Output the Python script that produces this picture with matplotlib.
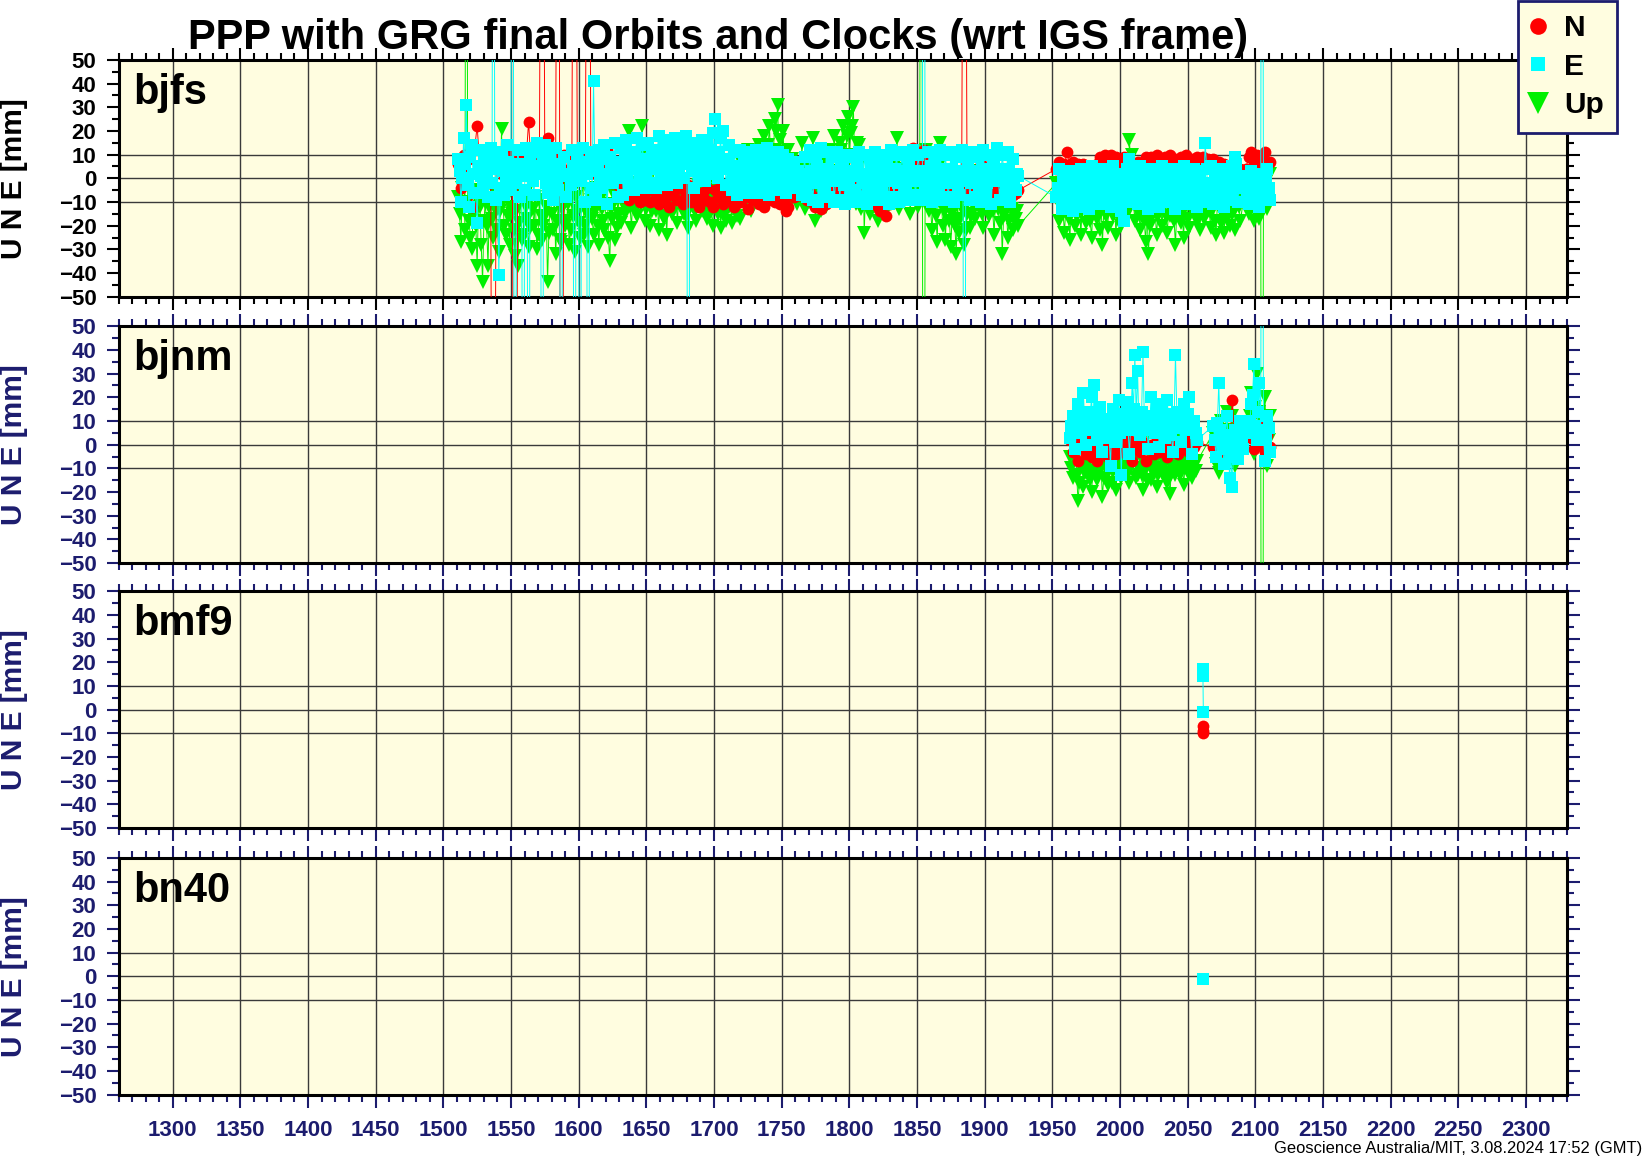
import matplotlib
matplotlib.use("Agg")
import matplotlib.pyplot as plt
import matplotlib.ticker as mticker
from matplotlib.lines import Line2D

plt.rcParams["font.family"] = ["Liberation Sans", "DejaVu Sans"]
plt.rcParams["font.weight"] = "bold"

TITLE = "PPP with GRG final Orbits and Clocks (wrt IGS frame)"
FOOTER = "Geoscience Australia/MIT, 3.08.2024 17:52 (GMT)"
YLABEL = "U N E [mm]"

# GPS weeks of the samples (every second week,
# plus the in-between weeks for the denser E and Up bands)
BJFS_WEEKS_A = list(range(1511, 1926, 2))   # 208 samples
BJFS_WEEKS_B = list(range(1953, 2090, 2))   # 69 samples
BJFS_WEEKS_C = list(range(2093, 2112, 2))   # 10 samples
BJFS_WEEKS_A2 = list(range(1512, 1925, 2))  # 207 samples
BJFS_WEEKS_B2 = list(range(1954, 2089, 2))  # 68 samples
BJFS_WEEKS_C2 = list(range(2094, 2111, 2))  # 9 samples

# +/-300 are outliers far off scale (the long vertical spikes)
BJFS_N_A = [
    6, -4, 10, 2, 8, -12, 12, 22, 5, 11,
    3, 9, -2, -300, 8, 4, 11, 1, 9, 10,
    5, -300, 8, 2, 10, 6, 24, 4, 9, 3,
    8, 300, 6, 17, 11, 5, 9, 300, -300, 10,
    9, 4, 11, 300, 8, 12, 6, 10, 300, 7,
    8, 2, 6, -1, 5, 12, 3, -2, 4, -3,
    -4, -8, -3, -9, -5, -7, -2, -10, -6, -9,
    -5, -10, -4, -8, -11, -3, -9, -6, -12, -7,
    -5, -9, -4, -11, -7, -3, -10, -6, -8, -12,
    -6, -9, -4, -10, -12, -5, -8, -3, -11, -7,
    -9, -5, -12, -7, -10, -4, -8, -13, -6, -9,
    -5, -11, -7, -12, -4, -9, -6, -10, -8, -11,
    -9, -14, -12, -6, -8, -5, -7, -4, -6, -9,
    -6, -10, -12, -8, -13, -7, -11, -5, -9, -4,
    -6, -3, -8, -5, -7, -4, -9, -6, -3, -7,
    -5, -8, -4, -6, -9, -12, -14, -10, -16, -11,
    -7, -4, -8, -3, -6, -2, 4, 9, 13, 7,
    11, 5, 12, 8, 3, -2, -5, -3, -6, -4,
    -5, -2, -7, -4, -6, -3, -5, 300, -4, -7,
    -3, -6, 2, 6, 4, -2, -5, -4, -7, -6,
    -4, -7, -5, -6, -3, -7, -6, -5,
]
BJFS_E_A = [
    8, -10, 17, 31, -12, 14, -6, -19, 12, -4,
    10, -8, 13, 300, -9, -41, 11, -7, 14, -5,
    300, -300, 12, -8, -300, 13, -300, 11, -7, 15,
    12, -300, 14, -6, 10, -9, 13, -5, -300, 9,
    -8, 2, 12, -300, 10, -300, 13, -10, -300, 11,
    41, -9, 12, -4, 14, -11, 9, -2, 15, -8,
    13, -7, 16, -3, 11, -5, 17, 0, 14, -4,
    15, -2, 12, -4, 18, 1, 14, -3, 16, 2,
    17, -2, 13, 0, 18, -300, 15, -4, 12, 1,
    16, -1, 14, 2, 19, 25, 0, 17, 20, -3,
    14, -5, 11, -7, 12, -2, 10, -6, 11, -4,
    12, -6, 10, -3, 13, -7, 9, -5, 11, -2,
    10, -6, 8, -4, 7, -3, 2, -7, 9, -8,
    12, -9, 10, -10, 13, -6, 11, -8, 9, -10,
    11, -9, 8, -11, 10, -7, 9, -10, 11, -8,
    10, -11, 9, -6, 11, -9, 8, -8, 10, -11,
    12, -8, 10, -10, 11, -6, 9, -9, 12, -7,
    10, -9, 300, -8, 11, -10, 9, -6, 12, -9,
    10, -8, 11, -10, 9, -7, 12, -300, 10, -9,
    11, -8, 9, -10, 12, -6, 10, -11, 8, 13,
    -9, 10, -7, 11, -10, 8, -5, 1,
]
BJFS_E_A2 = [
    3, 0, 6, -3, 9, 2, -6, 5, 1, 7,
    2, 6, -2, 4, 8, -4, 3, 0, 7, 1,
    4, -2, 6, 1, -5, 3, 8, -1, 5, 2,
    3, 7, -2, 5, 0, 4, -3, 6, 1, 2,
    1, -3, 5, 3, 7, -1, 4, 2, 6, -4,
    3, 6, 1, 8, 2, -2, 5, 7, 0, 4,
    5, 9, 2, 7, 4, 11, 6, 3, 8, 1,
    6, 9, 4, 11, 7, 3, 10, 5, 8, 12,
    8, 4, 10, 6, 12, 7, 3, 9, 5, 11,
    7, 10, 5, 12, 9, 6, 11, 4, 8, 6,
    4, 1, 5, -1, 3, 6, 0, 2, 7, 1,
    3, 0, 5, 2, -2, 4, 1, 6, -1, 3,
    2, 0, 4, -1, 1, 3, -2, 2, -3, 1,
    3, -2, 5, 0, 2, -4, 4, 1, -1, 3,
    0, 4, -3, 2, -1, 3, -5, 5, 1, -2,
    2, -3, 4, 0, -2, 3, -4, 1, 5, -1,
    1, 4, -2, 3, 0, -4, 5, 2, -1, 3,
    0, 3, -3, 2, 5, -1, 1, -4, 4, 0,
    2, -2, 4, 0, -3, 3, 1, -1, 5, -2,
    3, 0, -4, 4, 1, -2, 2, 5, -1, 3,
    0, 4, -2, 3, 1, -3, 2,
]
BJFS_U_A = [
    -8, -27, 2, 300, -18, -30, -5, -37, -12, -44,
    -10, -37, -3, -25, -14, -31, 21, -20, -8, -28,
    -15, -33, -37, -6, -24, -12, -29, -2, -20, -30,
    -9, -26, -16, -44, -5, -22, -32, -11, -27, -3,
    -18, -28, -6, -31, -14, -25, 4, -20, -29, -9,
    -24, -4, -28, -13, -22, -2, -35, -17, -26, -8,
    -19, 3, -12, 20, -21, -6, -16, 9, 22, -18,
    -10, -20, 4, -14, -22, -7, -17, -24, -3, -15,
    -11, -19, 6, -8, -16, -21, -4, -13, -18, -6,
    -14, 5, -17, -9, -20, -2, -15, -21, -7, -18,
    -12, -19, -4, -16, -17, 6, -10, 12, -14, 10,
    -8, 14, -11, 18, 8, 22, -6, 25, 31, 16,
    20, -12, 12, -9, 3, -11, -5, 15, -13, -7,
    -10, 17, -18, -6, -14, 4, -12, 12, -8, 18,
    -9, 15, 22, -7, 26, 19, 30, -11, 14, -13,
    -23, 8, -15, -4, -12, -18, 2, -10, -14, -5,
    -11, 6, 17, -13, -3, -9, 10, -15, 5, -7,
    -12, 300, -300, 12, -14, -22, -8, -27, 15, -20,
    -26, -11, -29, -18, -32, -23, -9, -28, -15, -21,
    -10, -17, 3, -13, -21, -6, -16, -12, -24, -8,
    -19, -32, -14, -25, -11, -22, -17, -20,
]
BJFS_U_A2 = [
    -15, -4, -22, -10, -25, -16, -20, -9, -28, -18,
    -20, -12, -17, -6, -22, -14, -10, -24, -16, -12,
    -22, -14, -19, -26, -10, -17, -21, -13, -8, -24,
    -16, -20, -12, -23, -15, -9, -18, -26, -13, -20,
    -11, -22, -16, -8, -19, -12, -24, -15, -6, -17,
    -14, -20, -9, -18, -11, -25, -13, -7, -21, -15,
    -10, -15, -5, -12, -8, -14, -2, -11, -6, -13,
    -7, -14, -9, -3, -12, -16, -6, -11, -13, -8,
    -9, -5, -13, -15, -7, -11, -10, -14, -3, -12,
    -8, -12, -5, -14, -10, -13, -9, -6, -15, -11,
    -9, -6, -12, -8, -3, -11, -2, -7, 4, -5,
    6, -4, 10, 2, 14, 5, 12, 20, 8, 11,
    6, 2, -4, 8, -6, 4, -2, -8, 5, -10,
    6, -4, -9, 2, -3, 7, -6, 3, 10, -2,
    8, 12, 4, 18, 10, 22, 6, 15, -4, 9,
    -6, 0, -9, 3, -5, -8, -2, 4, -7, -3,
    2, -5, 8, -1, 4, -7, 0, -3, 6, -4,
    -6, 2, -8, -3, -11, -13, -16, 5, -9, -14,
    -12, -18, -15, -20, -10, -17, -14, -22, -8, -16,
    -12, -5, -9, -15, -7, -11, -3, -14, -9, -13,
    -12, -16, -9, -18, -13, -8, -14,
]
BJFS_N_B = [
    4, 7, 5, 6, 11, 4, 7, 5, 6, 3,
    6, 2, 4, 1, 3, 6, 9, 5, 10, 7,
    10, 6, 9, 4, 8, 9, 5, 7, 3, 6,
    7, 4, 6, 9, 5, 9, 6, 10, 4, 8,
    9, 5, 10, 7, 8, 4, 9, 6, 10, 7,
    8, 4, 9, 7, 9, 5, 8, 6, 8, 4,
    7, 3, 6, 4, 5, 2, 4, 3, 4,
]
BJFS_E_B = [
    -8, 4, -13, 2, -10, 3, -14, 1, -12, 4,
    -9, 2, -13, 5, -8, 0, -11, 4, -7, 3,
    -12, 5, -9, 2, -14, -18, 4, 8, -10, 3,
    -11, 5, -8, 2, -13, 4, -9, 1, -12, 5,
    -7, 3, -10, 4, -13, 2, -8, 5, -11, 1,
    -9, 4, -12, 3, -10, 15, -6, 5, -11, 2,
    -8, 4, -12, 3, -9, 5, 9, -10, 1,
]
BJFS_E_B2 = [
    -4, -7, -1, -5, -3, -8, -2, -6, -4, -1,
    -5, -2, -7, -3, 0, -6, -4, -8, -2, -5,
    -3, -6, 0, -4, -9, -1, -5, 2, -3, -6,
    -2, -5, -7, -3, 0, -6, -4, -8, -1, -5,
    -4, -1, -6, -3, -8, 0, -5, -2, -7, -4,
    -3, -6, -1, -5, -2, 4, -7, -3, 0, -5,
    -2, -6, -4, 0, -5, -3, 6, -4,
]
BJFS_U_B = [
    -2, -18, -8, -23, -13, -26, -5, -20, -11, -24,
    -9, -19, -14, -25, -4, -17, -22, -28, -10, -21,
    -6, -16, -24, -12, -20, -3, -15, 16, 10, -18,
    -8, -22, -13, -27, -32, -17, -6, -24, -14, -20,
    -9, -23, -16, -5, -28, -12, -19, -25, -7, -21,
    -14, -4, -18, -22, -10, -16, -5, -21, -13, -24,
    -8, -19, -23, -11, -20, -15, -22, -9, -18,
]
BJFS_U_B2 = [
    -10, -6, -15, -12, -17, -8, -13, -16, -5, -14,
    -12, -7, -18, -13, -10, -15, -9, -14, -16, -6,
    -14, -9, -12, -17, -7, -13, -2, 5, -11, -8,
    -15, -11, -18, -13, -20, -9, -14, -16, -10, -12,
    -16, -12, -7, -18, -13, -10, -15, -11, -17, -9,
    -11, -16, -8, -13, -17, -7, -14, -12, -18, -10,
    -13, -15, -8, -16, -11, -14, -7, -12,
]
BJFS_N_C = [4, 9, 11, 6, 10, 4, 8, 11, 5, 7]
BJFS_E_C = [-3, -11, 3, -8, 2, -12, 300, -6, 4, -9]
BJFS_E_C2 = [-6, -1, -4, 0, -7, -3, -5, -1, -4]
BJFS_U_C = [-2, -15, -6, -18, -10, -17, -300, -8, -13, 2]
BJFS_U_C2 = [-8, -11, -4, -12, -6, -9, -12, -5, -10]

BJNM_WEEKS_A = list(range(1963, 2058, 2))   # 48 samples
BJNM_WEEKS_B = list(range(2069, 2092, 2))   # 12 samples
BJNM_WEEKS_C = list(range(2095, 2112, 2))   # 9 samples
BJNM_WEEKS_A2 = list(range(1964, 2057, 2))  # 47 samples
BJNM_WEEKS_B2 = list(range(2070, 2091, 2))  # 11 samples
BJNM_WEEKS_C2 = list(range(2096, 2111, 2))  # 8 samples
BJNM_N_A = [
    2, -3, 1, -7, -2, 0, -4, 2, -5, -1,
    -7, 1, -3, 0, -5, 2, -2, -4, 1, -3,
    -1, -4, 2, -7, -2, 0, -3, 1, -7, -2,
    0, -4, 2, -3, -1, 1, -5, 0, -2, 1,
    -4, 0, -2, 2, -3, 0, -1, 1,
]
BJNM_E_A = [
    3, 12, -2, 17, 5, 22, 0, 14, 20, 25,
    2, 16, -3, 11, 6, -9, 15, 1, 19, -13,
    8, 18, -4, 26, 38, 31, 4, 39, 10, -2,
    20, 7, 17, -1, 14, 3, 19, 9, -3, 38,
    12, 1, 17, 6, 20, -4, 10, 2,
]
BJNM_E_A2 = [
    8, 5, 11, 9, 14, 7, 10, 13, 6, 12,
    9, 4, 10, 7, 3, 11, 8, 12, 5, 9,
    13, 6, 10, 15, 12, 8, 14, 11, 6, 9,
    12, 5, 10, 7, 11, 13, 8, 4, 10, 14,
    7, 11, 9, 13, 6, 8, 5,
]
BJNM_U_A = [
    -5, -14, 4, -24, -10, -18, 2, -12, -20, -7,
    -15, 6, -22, -9, -17, 3, -11, -19, -4, -14,
    8, -8, -16, 10, -6, -13, -3, -19, -10, 5,
    -15, -7, -18, 2, -12, -8, -16, -21, -5, -13,
    4, -11, -17, -2, -9, -14, 1, -7,
]
BJNM_U_A2 = [
    -10, -6, -13, -16, -8, -12, -9, -15, -11, -5,
    -13, -9, -14, -7, -11, -16, -6, -12, -10, -8,
    -4, -12, -9, -6, -14, -10, -13, -8, -15, -9,
    -11, -6, -13, -10, -7, -12, -14, -9, -11, -8,
    -13, -7, -10, -12, -6, -9, -11,
]
BJNM_N_B = [-1, 1, -3, 0, -2, 2, -3, 19, 0, 3, -1, 5]
BJNM_E_B = [8, -5, 26, 3, -8, 12, -14, -18, 6, -6, 10, -2]
BJNM_E_B2 = [2, 9, 6, -2, 4, 1, -5, 0, 3, 5, 2]
BJNM_U_B = [5, -8, -12, 10, -3, 14, -6, 12, -9, 6, 0, 9]
BJNM_U_B2 = [-2, 2, 1, 4, 6, -1, 3, 0, 2, 5, 4]
BJNM_N_C = [10, 3, -2, 5, 0, 8, -3, 4, -1]
BJNM_E_C = [5, 17, 34, 2, 26, 300, -7, 12, -3]
BJNM_E_C2 = [10, 21, 8, 14, 4, 6, 2, 7]
BJNM_U_C = [8, 22, -4, 30, 14, -300, 20, -9, 12]
BJNM_U_C2 = [12, 6, 16, 4, 10, 5, 8, 2]

BMF9_WEEKS = [2061.0, 2061.3, 2061.6]
BMF9_N = [-7, -9, -10]
BMF9_E = [17, 14, -1]

BN40_WEEKS = [2061.0]
BN40_E = [-1]

GRID_Y = [-10, 0, 10]

CREAM = "#fffde0"
NAVY = "#1c1c6e"
RED = "#ff0000"
CYAN = "#00ffff"
GREEN = "#00f000"


def merge(a, b):
    # put the in-between samples back in time order
    out = []
    for i, v in enumerate(a):
        out.append(v)
        if i < len(b):
            out.append(b[i])
    return out


bjfs_w = BJFS_WEEKS_A + BJFS_WEEKS_B + BJFS_WEEKS_C
bjfs_w2 = (merge(BJFS_WEEKS_A, BJFS_WEEKS_A2) + merge(BJFS_WEEKS_B, BJFS_WEEKS_B2)
           + merge(BJFS_WEEKS_C, BJFS_WEEKS_C2))
bjfs_e = merge(BJFS_E_A, BJFS_E_A2) + merge(BJFS_E_B, BJFS_E_B2) + merge(BJFS_E_C, BJFS_E_C2)
bjfs_u = merge(BJFS_U_A, BJFS_U_A2) + merge(BJFS_U_B, BJFS_U_B2) + merge(BJFS_U_C, BJFS_U_C2)

bjnm_w = BJNM_WEEKS_A + BJNM_WEEKS_B + BJNM_WEEKS_C
bjnm_w2 = (merge(BJNM_WEEKS_A, BJNM_WEEKS_A2) + merge(BJNM_WEEKS_B, BJNM_WEEKS_B2)
           + merge(BJNM_WEEKS_C, BJNM_WEEKS_C2))
bjnm_e = merge(BJNM_E_A, BJNM_E_A2) + merge(BJNM_E_B, BJNM_E_B2) + merge(BJNM_E_C, BJNM_E_C2)
bjnm_u = merge(BJNM_U_A, BJNM_U_A2) + merge(BJNM_U_B, BJNM_U_B2) + merge(BJNM_U_C, BJNM_U_C2)

# station, (weeks, N), (weeks, E), (weeks, Up)
panels = [
    ("bjfs", (bjfs_w, BJFS_N_A + BJFS_N_B + BJFS_N_C), (bjfs_w2, bjfs_e), (bjfs_w2, bjfs_u)),
    ("bjnm", (bjnm_w, BJNM_N_A + BJNM_N_B + BJNM_N_C), (bjnm_w2, bjnm_e), (bjnm_w2, bjnm_u)),
    ("bmf9", (BMF9_WEEKS, BMF9_N), (BMF9_WEEKS, BMF9_E), None),
    ("bn40", None, (BN40_WEEKS, BN40_E), None),
]

fig = plt.figure(figsize=(16.44, 11.58), dpi=100)
bottoms = [0.7438, 0.5138, 0.2850, 0.0547]
height = 0.2044

for k, (name, n, e, u) in enumerate(panels):
    ax = fig.add_axes([0.0721, bottoms[k], 0.8808, height])
    ax.set_facecolor(CREAM)
    tc = "black" if k == 0 else NAVY

    if u:
        ax.plot(u[0], u[1], color=GREEN, lw=0.7, marker="v", ms=10.5, mew=0, zorder=3)
    if n:
        ax.plot(n[0], n[1], color=RED, lw=0.7, marker="o", ms=8.5, mew=0, zorder=4)
    if e:
        ax.plot(e[0], e[1], color=CYAN, lw=0.7, marker="s", ms=8.3, mew=0, zorder=5)

    ax.set_xlim(1260, 2330)
    ax.set_ylim(-50, 50)
    ax.xaxis.set_major_locator(mticker.MultipleLocator(50))
    ax.xaxis.set_minor_locator(mticker.MultipleLocator(10))
    ax.yaxis.set_major_locator(mticker.MultipleLocator(10))
    ax.yaxis.set_minor_locator(mticker.MultipleLocator(5))
    ax.tick_params(which="both", direction="out", top=True, right=True,
                   colors=tc, width=1.5)
    ax.tick_params(which="major", length=9)
    ax.tick_params(which="minor", length=5)
    ax.tick_params(axis="x", labelbottom=(k == 3), labelsize=16, pad=9)
    ax.tick_params(axis="y", labelsize=16, pad=7)

    ax.set_axisbelow(True)
    ax.grid(axis="x", which="major", color="#3a3a3a", lw=1.0)
    for yv in GRID_Y:
        ax.axhline(yv, color="#3a3a3a", lw=1.0, zorder=1)
    for sp in ax.spines.values():
        sp.set_linewidth(2.2)
        sp.set_color("black")

    ax.text(0.010, 0.815, name, transform=ax.transAxes, fontsize=30,
            fontweight="bold", va="baseline", ha="left", zorder=10)
    fig.text(0.0083, bottoms[k] + height / 2, YLABEL, rotation=90,
             ha="center", va="center", fontsize=21.5, color=tc)

fig.text(0.437, 1 - 49 / 1158, TITLE, ha="center", va="baseline",
         fontsize=30, fontweight="bold")

handles = [
    Line2D([], [], ls="none", marker="o", ms=12, mew=0, color=RED),
    Line2D([], [], ls="none", marker="s", ms=10, mew=0, color=CYAN),
    Line2D([], [], ls="none", marker="v", ms=16, mew=0, color=GREEN),
]
leg = fig.legend(handles, ["N", "E", "Up"], loc="upper right",
                 bbox_to_anchor=(1617 / 1644, 1 - 1 / 1158),
                 bbox_transform=fig.transFigure,
                 prop={"size": 21.5, "weight": "bold"},
                 fancybox=False, framealpha=1, facecolor=CREAM,
                 edgecolor=NAVY, handlelength=0.5, handletextpad=0.6,
                 labelspacing=0.35, borderpad=0.45, borderaxespad=0)
leg.get_frame().set_linewidth(2)

fig.text(1 - 2 / 1644, 1 - 1153 / 1158, FOOTER, ha="right", va="baseline",
         fontsize=11.9, fontweight="normal")

fig.savefig("out.png", dpi=100)
